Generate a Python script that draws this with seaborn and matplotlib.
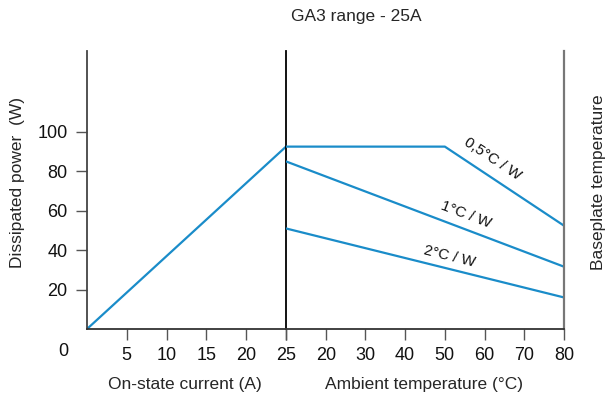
import matplotlib
matplotlib.use("Agg")
import matplotlib.pyplot as plt
import seaborn as sns
import pandas as pd

sns.set_theme(style="white")
plt.rcParams['font.family'] = ['Liberation Sans', 'DejaVu Sans']

# ---- data ----
current = [0, 25]
power_vs_current = [0, 92.5]

temp_05 = [10, 50, 80]
power_05 = [92.5, 92.5, 52.4]
temp_1 = [10, 80]
power_1 = [85, 31.6]
temp_2 = [10, 80]
power_2 = [51, 16]

left_ticks = [5, 10, 15, 20, 25]
left_ticklabels = ["5", "10", "15", "20", "25"]
right_ticks = [10, 20, 30, 40, 50, 60, 70, 80]
right_ticklabels = ["", "20", "30", "40", "50", "60", "70", "80"]
y_ticks = [20, 40, 60, 80, 100]

line_labels = ["0,5°C / W", "1°C / W", "2°C / W"]
label_pos = [(62.0, 86.0), (55.3, 57.8), (51.1, 37.0)]
label_rot = [-33.5, -21, -14]

BLUE = "#1a8cc9"

fig = plt.figure(figsize=(6.08, 3.96), dpi=100)
W, H = 608, 396
def box(x0, x1, y0, y1):
    return [x0 / W, 1 - y1 / H, (x1 - x0) / W, (y1 - y0) / H]

axL = fig.add_axes(box(87, 286, 51, 329))
axR = fig.add_axes(box(286, 564, 51, 329))

df_left = pd.DataFrame({"x": current, "y": power_vs_current})
sns.lineplot(data=df_left, x="x", y="y", ax=axL, color=BLUE, lw=1.6)

for tx, py in [(temp_05, power_05), (temp_1, power_1), (temp_2, power_2)]:
    d = pd.DataFrame({"x": tx, "y": py})
    sns.lineplot(data=d, x="x", y="y", ax=axR, color=BLUE, lw=1.6)

ymax = 141
for ax in (axL, axR):
    ax.set_ylim(0, ymax)
    ax.set_xlabel("")
    ax.set_ylabel("")
    ax.spines['top'].set_visible(False)
    ax.set_facecolor("none")

axL.set_xlim(0, 25)
axR.set_xlim(10, 80)

tick_kw = dict(direction="out", length=8, width=1.0, color="#555555",
               labelsize=13, labelcolor="#111111")
axL.set_xticks(left_ticks)
axL.set_xticklabels(left_ticklabels)
axL.set_yticks(y_ticks)
axL.tick_params(axis="x", pad=5, bottom=True, **tick_kw)
axL.tick_params(axis="y", pad=6, left=True, **tick_kw)

axR.set_xticks(right_ticks)
axR.set_xticklabels(right_ticklabels)
axR.set_yticks([])
axR.tick_params(axis="x", pad=5, bottom=True, **tick_kw)

axL.spines['left'].set_color("#444444")
axL.spines['left'].set_linewidth(1.3)
axL.spines['bottom'].set_color("#333333")
axL.spines['bottom'].set_linewidth(1.3)
axL.spines['right'].set_color("black")
axL.spines['right'].set_linewidth(1.3)
axR.spines['left'].set_visible(False)
axR.spines['bottom'].set_color("#333333")
axR.spines['bottom'].set_linewidth(1.3)
axR.spines['right'].set_color("#777777")
axR.spines['right'].set_linewidth(1.6)

# "0" origin label
fig.text(63 / W, 1 - 352 / H, "0", ha="center", va="center", fontsize=13, color="#111111")

for txt, (x, y), r in zip(line_labels, label_pos, label_rot):
    axR.text(x, y, txt, ha="center", va="center", rotation=r,
             rotation_mode="anchor", fontsize=11, color="#111111")

lab = 12.5
fig.text(356 / W, 1 - 17 / H, "GA3 range - 25A", ha="center", va="center", fontsize=lab)
fig.text(185 / W, 1 - 385 / H, "On-state current (A)", ha="center", va="center", fontsize=lab)
fig.text(424 / W, 1 - 385 / H, "Ambient temperature (°C)", ha="center", va="center", fontsize=lab)
fig.text(18 / W, 1 - 182 / H, "Dissipated power  (W)", ha="center", va="center",
         rotation=90, fontsize=lab)
fig.text(598 / W, 1 - 182 / H, "Baseplate temperature", ha="center", va="center",
         rotation=90, fontsize=lab)

fig.savefig("out.png", dpi=100)
